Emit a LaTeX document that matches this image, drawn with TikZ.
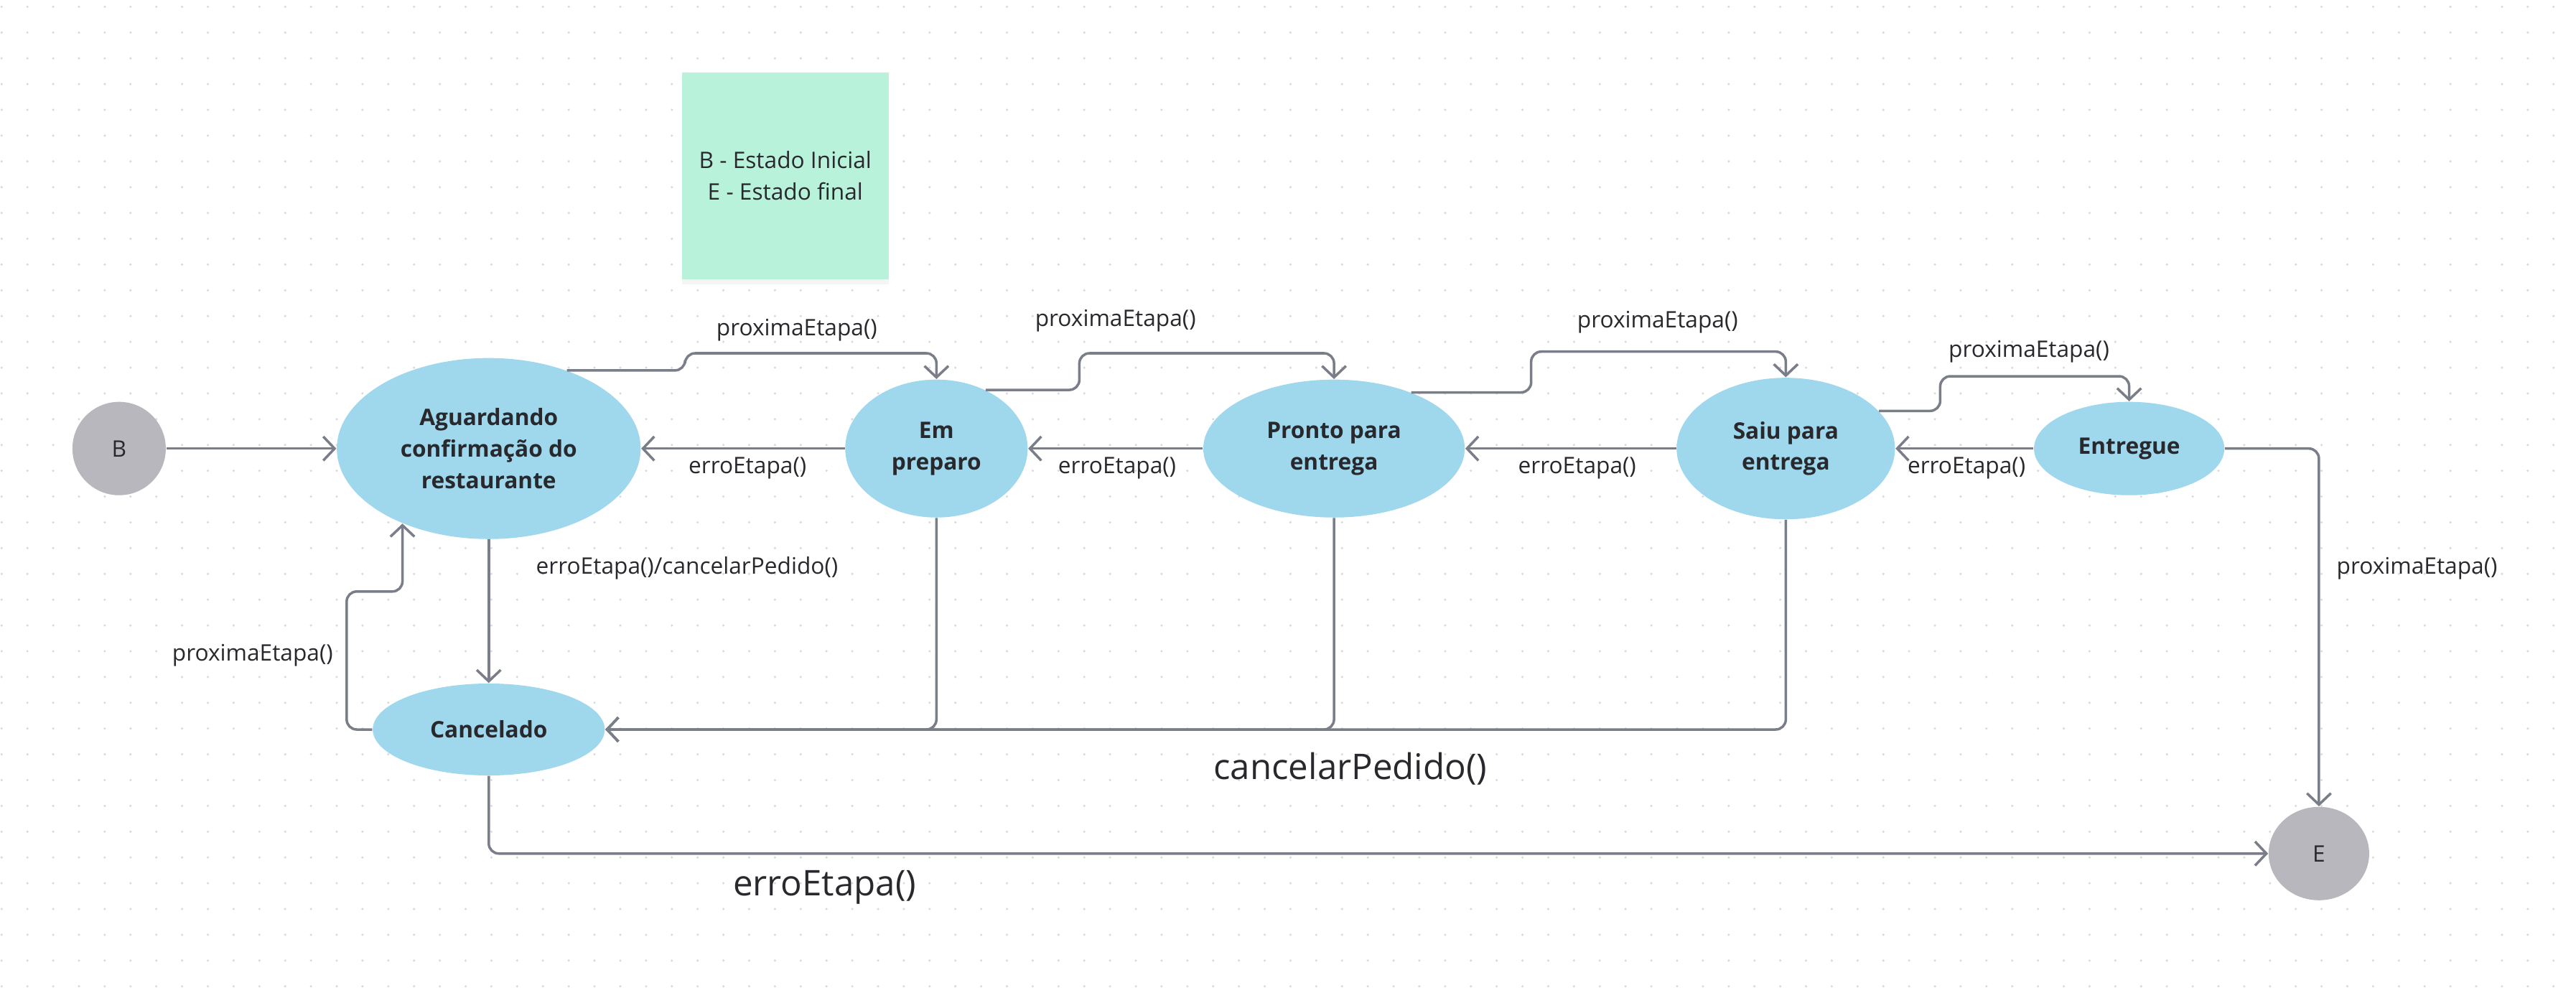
\documentclass[tikz,border=0pt]{standalone}
\usepackage{fontspec}
\setmainfont{Open Sans}
\usetikzlibrary{shapes.geometric,arrows.meta,shadows}
\definecolor{azul}{RGB}{159,216,237}
\definecolor{cinza}{RGB}{183,183,189}
\definecolor{linha}{RGB}{122,126,136}
\definecolor{texto}{RGB}{40,40,45}
\definecolor{menta}{RGB}{184,242,219}
\definecolor{ponto}{RGB}{218,218,222}

\begin{document}
\begin{tikzpicture}[x=0.02288cm,y=-0.02288cm,
    estado/.style={ellipse,fill=azul,inner sep=0pt,align=center,text=texto,
      font=\bfseries\fontsize{9}{12.4}\selectfont},
    extremo/.style={ellipse,fill=cinza,inner sep=0pt,text=texto,font=\fontsize{9}{11}\selectfont},
    seta/.style={draw=linha,line width=1pt,rounded corners=4pt,
      -{Straight Barb[length=4.5pt,width=9.5pt]}},
    rotulo/.style={inner sep=0pt,text=texto,font=\fontsize{9}{11}\selectfont},
    grande/.style={inner sep=0pt,text=texto,font=\fontsize{14}{16}\selectfont}]
    \useasboundingbox (0,0) rectangle (1568,604);
    \foreach \i in {0,...,99}
      \foreach \j in {0,...,38}
        \fill[ponto] ({1.0+15.69*\i},{4.1+15.69*\j}) circle (0.5pt);

    \node[fill=menta,minimum width=2.88cm,minimum height=2.88cm,align=center,text=texto,
      font=\fontsize{9}{12.4}\selectfont,
      drop shadow={opacity=0.08,shadow xshift=0pt,shadow yshift=-2pt}] (legenda) at (478,107)
      {B - Estado Inicial\\E - Estado final};

    \node[extremo,minimum width=1.30cm,minimum height=1.30cm] (B) at (72.5,273) {B};
    \node[estado,minimum width=4.23cm,minimum height=2.52cm] (aguardando) at (297.5,273)
      {Aguardando\\confirmação do\\restaurante};
    \node[estado,minimum width=2.54cm,minimum height=1.92cm] (preparo) at (570,273) {Em\\preparo};
    \node[estado,minimum width=3.64cm,minimum height=1.92cm] (pronto) at (812,273) {Pronto para\\entrega};
    \node[estado,minimum width=3.04cm,minimum height=1.97cm] (saiu) at (1087,273) {Saiu para\\entrega};
    \node[estado,minimum width=2.65cm,minimum height=1.30cm] (entregue) at (1296,273) {Entregue};
    \node[estado,minimum width=3.23cm,minimum height=1.28cm] (cancelado) at (297.5,444) {Cancelado};
    \node[extremo,minimum width=1.40cm,minimum height=1.30cm] (E) at (1411.5,519.5) {E};

    \draw[seta] (B.east) -- (aguardando.west);
    \draw[seta] (aguardando.45) -| (417,215) -| (preparo.north);
    \draw[seta] (preparo.50) -| (657,215) -| (pronto.north);
    \draw[seta] (pronto.36) -| (932,214) -| (saiu.north);
    \draw[seta] (saiu.22) -| (1181,229) -| (entregue.north);
    \draw[seta] (preparo.west) -- (aguardando.east);
    \draw[seta] (pronto.west) -- (preparo.east);
    \draw[seta] (saiu.west) -- (pronto.east);
    \draw[seta] (entregue.west) -- (saiu.east);
    \draw[seta] (aguardando.south) -- (cancelado.north);
    \draw[seta] (cancelado.west) -| (211,360) -| (aguardando.221);
    \draw[seta] (preparo.south) |- (cancelado.east);
    \draw[seta] (pronto.south) |- (cancelado.east);
    \draw[seta] (saiu.south) |- (cancelado.east);
    \draw[seta] (cancelado.south) |- (E.west);
    \draw[seta] (entregue.east) -| (E.north);

    \node[rotulo] (prox1) at (485,201) {proximaEtapa()};
    \node[rotulo] (prox2) at (679,195) {proximaEtapa()};
    \node[rotulo] (prox3) at (1009,196) {proximaEtapa()};
    \node[rotulo] (prox4) at (1235,214) {proximaEtapa()};
    \node[rotulo] (erro1) at (455,285) {erroEtapa()};
    \node[rotulo] (erro2) at (680,285) {erroEtapa()};
    \node[rotulo] (erro3) at (960,285) {erroEtapa()};
    \node[rotulo] (erro4) at (1197,285) {erroEtapa()};
    \node[rotulo,anchor=west] (errocancel) at (326,346) {erroEtapa()/cancelarPedido()};
    \node[rotulo,anchor=east] (proxvolta) at (203,399) {proximaEtapa()};
    \node[rotulo,anchor=west] (proxfim) at (1422,346) {proximaEtapa()};
    \node[grande] (cancelar) at (822,468) {cancelarPedido()};
    \node[grande] (errofim) at (502,540) {erroEtapa()};
\end{tikzpicture}
\end{document}
